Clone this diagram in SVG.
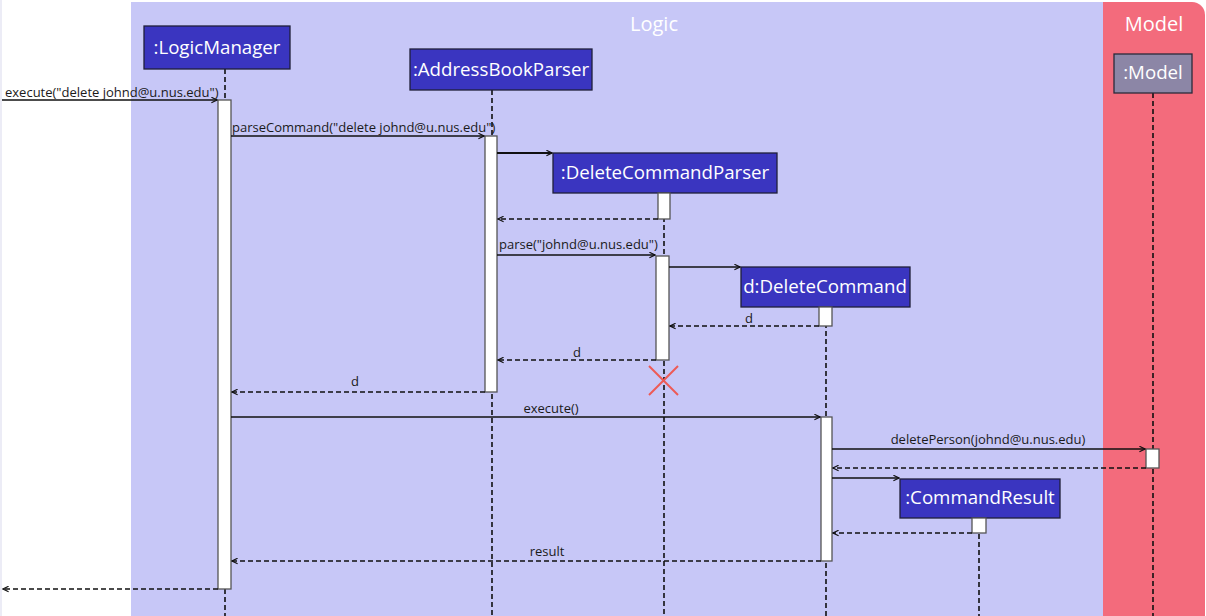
<svg xmlns="http://www.w3.org/2000/svg" width="1206" height="616" viewBox="0 0 1206 616">
  <style>
    .lbl { font-family: "Open Sans", "Noto Sans", sans-serif; font-size: 13px; fill: #1a1a1a; }
    .title { font-family: "Open Sans", "Noto Sans", sans-serif; font-size: 20px; fill: #ffffff; text-anchor: middle; }
    .obj { fill: #3a35c0; stroke: #1f1f3a; stroke-width: 1.3; }
    .objtxt { font-family: "Open Sans", "Noto Sans", sans-serif; font-size: 18.7px; fill: #ffffff; text-anchor: middle; }
    .life { stroke: #111; stroke-width: 1.6; stroke-dasharray: 5 3; fill: none; }
    .act { fill: #ffffff; stroke: #555; stroke-width: 1.3; }
    .call { stroke: #111; stroke-width: 1.5; fill: none; marker-end: url(#open); }
    .create { stroke: #111; stroke-width: 2.2; fill: none; marker-end: url(#open); }
    .ret { stroke: #111; stroke-width: 1.5; stroke-dasharray: 5 3; fill: none; marker-end: url(#open); }
  </style>
  <defs>
    <marker id="open" viewBox="0 0 10 10" refX="9" refY="5" markerWidth="7" markerHeight="7" markerUnits="userSpaceOnUse" orient="auto">
      <path d="M1,1 L9,5 L1,9" fill="none" stroke="#111" stroke-width="1.6"/>
    </marker>
  </defs>

  <!-- backdrop -->
  <rect x="0" y="0" width="1206" height="616" fill="#ffffff"/>
  <rect x="0" y="0" width="2" height="616" fill="#ececf6"/>

  <!-- swimlanes -->
  <g id="lane-logic">
    <rect x="131" y="2" width="972" height="614" fill="#c7c7f7"/>
    <text class="title" x="654" y="31">Logic</text>
  </g>
  <g id="lane-model">
    <path d="M1103,2 H1192 A13,13 0 0 1 1205,15 V616 H1103 Z" fill="#f36b7c"/>
    <text class="title" x="1154" y="31">Model</text>
  </g>

  <!-- lifelines -->
  <g id="lifelines">
    <line class="life" x1="225" y1="69" x2="225" y2="616"/>
    <line class="life" x1="492" y1="90" x2="492" y2="616"/>
    <line class="life" x1="664" y1="193" x2="664" y2="616"/>
    <line class="life" x1="826" y1="307" x2="826" y2="616"/>
    <line class="life" x1="979" y1="518" x2="979" y2="616"/>
    <line class="life" x1="1153" y1="93" x2="1153" y2="616"/>
  </g>

  <!-- participants -->
  <g id="logicManager">
    <rect class="obj" x="144" y="26" width="146" height="43"/>
    <text class="objtxt" x="217" y="54">:LogicManager</text>
    <rect class="act" x="218" y="100" width="13" height="489"/>
  </g>
  <g id="addressBookParser">
    <rect class="obj" x="410" y="49" width="182" height="41"/>
    <text class="objtxt" x="501" y="76">:AddressBookParser</text>
    <rect class="act" x="485" y="136" width="12" height="256"/>
  </g>
  <g id="deleteCommandParser">
    <rect class="obj" x="553" y="153" width="224" height="40"/>
    <text class="objtxt" x="665" y="179">:DeleteCommandParser</text>
    <rect class="act" x="658" y="193" width="12" height="26"/>
    <rect class="act" x="656" y="256" width="13" height="104"/>
    <g id="destroy" stroke="#ee5a55" stroke-width="2">
      <line x1="649" y1="366" x2="678" y2="395"/>
      <line x1="678" y1="366" x2="649" y2="395"/>
    </g>
  </g>
  <g id="deleteCommand">
    <rect class="obj" x="741" y="267" width="169" height="40"/>
    <text class="objtxt" x="825" y="293">d:DeleteCommand</text>
    <rect class="act" x="819" y="307" width="13" height="19"/>
    <rect class="act" x="821" y="417" width="11" height="144"/>
  </g>
  <g id="commandResult">
    <rect class="obj" x="900" y="479" width="160" height="39"/>
    <text class="objtxt" x="980" y="504">:CommandResult</text>
    <rect class="act" x="972" y="518" width="14" height="15"/>
  </g>
  <g id="model">
    <rect x="1114" y="54" width="78" height="39" fill="#8c86a6" stroke="#2a2a3a" stroke-width="1.3"/>
    <text class="objtxt" x="1153" y="79">:Model</text>
    <rect class="act" x="1146" y="449" width="13" height="19"/>
  </g>

  <!-- messages -->
  <g id="connectors">
    <line class="call" x1="2" y1="100" x2="217" y2="100"/>
    <text class="lbl" x="5" y="97">execute("delete johnd@u.nus.edu")</text>

    <line class="call" x1="231" y1="136" x2="484" y2="136"/>
    <text class="lbl" x="232" y="132">parseCommand("delete johnd@u.nus.edu")</text>

    <line class="create" x1="497" y1="153" x2="552" y2="153"/>

    <line class="ret" x1="658" y1="219" x2="498" y2="219"/>

    <line class="call" x1="497" y1="255" x2="655" y2="255"/>
    <text class="lbl" x="499" y="249">parse("johnd@u.nus.edu")</text>

    <line class="call" x1="669" y1="267" x2="740" y2="267"/>

    <line class="ret" x1="819" y1="326" x2="670" y2="326"/>
    <text class="lbl" x="745" y="323">d</text>

    <line class="ret" x1="656" y1="360" x2="498" y2="360"/>
    <text class="lbl" x="573" y="357">d</text>

    <line class="ret" x1="485" y1="392" x2="232" y2="392"/>
    <text class="lbl" x="351" y="386">d</text>

    <line class="call" x1="231" y1="417" x2="820" y2="417"/>
    <text class="lbl" x="551" y="413" text-anchor="middle">execute()</text>

    <line class="call" x1="832" y1="449" x2="1145" y2="449"/>
    <text class="lbl" x="988" y="444" text-anchor="middle">deletePerson(johnd@u.nus.edu)</text>

    <line class="ret" x1="1146" y1="468" x2="833" y2="468"/>

    <line class="call" x1="832" y1="478" x2="899" y2="478"/>

    <line class="ret" x1="972" y1="533" x2="833" y2="533"/>

    <line class="ret" x1="821" y1="561" x2="232" y2="561"/>
    <text class="lbl" x="547" y="556" text-anchor="middle">result</text>

    <line class="ret" x1="218" y1="589" x2="3" y2="589"/>
  </g>
</svg>
